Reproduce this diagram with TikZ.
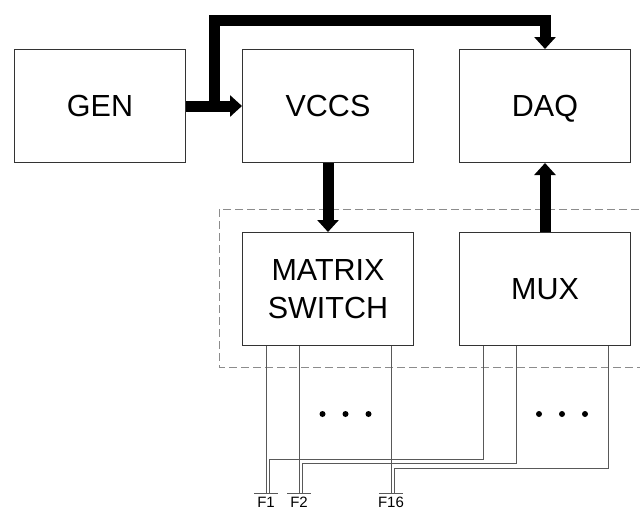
\documentclass[tikz,border=0pt]{standalone}
\usepackage{fontspec}
\setmainfont{Liberation Sans}
\usetikzlibrary{arrows.meta,positioning}

\begin{document}
\begin{tikzpicture}[x=1pt, y=-1pt, node distance=69pt and 56pt,
  font=\fontsize{30.5}{38}\selectfont,
  block/.style={draw=black!80, line width=1pt, align=center, minimum width=171pt, minimum height=113pt, inner sep=0pt},
  bus/.style={line width=11pt, -{Triangle[length=12pt, width=21pt]}},
  wire/.style={draw=black!65, line width=0.7pt},
  frame/.style={draw=black!45, line width=0.8pt, dash pattern=on 8pt off 4pt},
  pad/.style={minimum width=24pt, minimum height=0pt, inner sep=0pt, outer sep=0pt},
  padlabel/.style={font=\fontsize{15}{15}\selectfont, anchor=base, inner sep=0pt}]
\useasboundingbox (0,0) rectangle (640,509);
\clip (0,0) rectangle (640,509);
\node[block] (gen) at (100,106) {GEN};
\node[block, right=of gen] (vccs) {VCCS};
\node[block, right=45pt of vccs, text depth=0pt] (daq) {DAQ};
\node[block, below=of vccs] (matrix) {MATRIX\\SWITCH};
\node[block, below=of daq] (mux) {MUX};
\coordinate[right=28pt of gen] (split);
\draw[frame] ([shift={(-23pt,23pt)}]matrix.north west) rectangle ([shift={(30pt,-21pt)}]mux.south east);
\draw[bus] (gen) -- (vccs);
\draw[bus] (split) -- (split |- 0,20) -| (daq.north);
\draw[bus] (vccs) -- (matrix);
\draw[bus] (mux) -- (daq);
\foreach \dx/\lab/\jog in {-62/1/459, -29/2/463, 63/16/468}{
  \coordinate (ms\lab) at ([xshift=\dx pt]matrix.south);
  \coordinate (xs\lab) at ([xshift=\dx pt]mux.south);
  \node[pad] (p\lab) at (ms\lab |- 0,493) {};
  \node[padlabel] (f\lab) at ([yshift=-14pt]p\lab) {F\lab};
  \coordinate (j\lab) at (xs\lab |- 0,\jog);
  \draw[wire] (p\lab.west) -- (p\lab.east);
  \draw[wire] (ms\lab) -- (p\lab);
  \draw[wire] (xs\lab) -- (j\lab) -| ([xshift=3pt]p\lab.center);
}
\foreach \k in {-23,0,23}{
  \fill ([xshift=\k pt+17.5pt, yshift=-68pt]matrix.south) circle (3pt);
  \fill ([xshift=\k pt+17pt, yshift=-68pt]mux.south) circle (3pt);
}
\end{tikzpicture}
\end{document}
